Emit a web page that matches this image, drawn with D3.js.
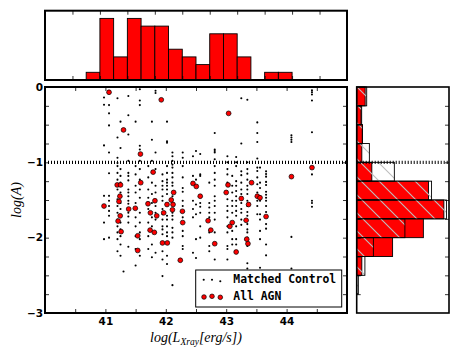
<!DOCTYPE html>
<html><head><meta charset="utf-8">
<script src="https://cdn.jsdelivr.net/npm/d3@7/dist/d3.min.js"></script>
<style>body{margin:0;background:#fff;} svg{display:block;}</style>
</head><body>
<script>
// ---------------- DATA ----------------
// All AGN: log(L_Xray) and log(A)
const agnLx = [41.06,41.925,41.30,43.04,41.58,41.79,44.42,44.08,41.195,41.25,41.585,41.24,41.225,40.977,41.385,41.495,41.705,41.82,41.745,41.85,41.245,41.21,41.26,41.74,41.81,41.535,41.535,42.13,42.09,42.12,42.02,42.11,41.965,42.275,42.45,42.505,42.57,42.28,42.70,42.745,42.81,41.945,42.025,42.24,43.03,43.00,43.42,43.25,43.515,43.56,43.37,43.66,43.33,43.10,43.06,43.34,43.36,43.165];
const agnLogA = [-0.07,-0.17,-0.57,-0.35,-0.89,-1.13,-1.07,-1.19,-1.30,-1.30,-1.27,-1.45,-1.52,-1.58,-1.62,-1.61,-1.55,-1.51,-1.67,-1.71,-1.71,-1.78,-1.92,-1.90,-1.93,-1.975,-2.17,-1.40,-1.50,-1.56,-1.56,-1.63,-1.67,-1.65,-1.28,-1.32,-1.45,-1.80,-1.775,-1.90,-2.08,-2.07,-2.07,-2.30,-1.30,-1.40,-1.27,-1.48,-1.45,-1.47,-1.56,-1.72,-1.77,-1.80,-1.85,-2.02,-2.08,-2.19];

// Matched control: columns [log(L_Xray), [log(A) values]]
const controlColumns = [
  [40.977, [-0.14,-0.235,-0.775,-1.445,-1.80,-2.02]],
  [41.06,  [-0.24,-0.35,-0.51,-0.87,-1.145,-1.445,-1.51,-1.58,-1.645,-1.71,-2.00]],
  [41.20,  [-0.15,-0.67,-0.94,-1.05,-1.14,-1.23,-1.36,-1.49,-1.58,-1.67,-1.76,-1.85,-1.93,-2.02,-2.18,-1.01]],
  [41.25,  [-0.46,-0.81,-1.09,-1.18,-1.27,-1.40,-1.54,-1.62,-1.71,-1.80,-1.89,-1.98,-2.09,-2.24]],
  [41.30,  [-2.45]],
  [41.38,  [-0.12,-0.375,-0.63,-0.98,-1.14,-1.18,-1.24,-1.36,-1.40,-1.45,-1.51,-1.55,-1.67,-1.72,-1.80,-2.12]],
  [41.50,  [-0.46,-1.05,-1.16,-1.31,-1.40,-1.54,-1.73,-1.85,-1.98,-2.15,-2.37]],
  [41.57,  [-0.03,-0.18,-0.24,-0.78,-0.83,-0.98,-1.09,-1.23,-1.36,-1.47,-1.67,-1.80,-1.93,-2.02,-2.24]],
  [41.71,  [-1.05,-1.20,-1.36,-1.47,-1.62,-1.80,-1.98,-2.15]],
  [41.77,  [-0.46,-0.70,-0.98,-1.12,-1.27,-1.42,-1.54,-1.73,-1.85,-2.09,-2.26]],
  [41.83,  [-0.05,-0.08,-0.87,-1.09,-1.31,-1.40,-1.58,-1.67,-1.76,-1.93,-2.20]],
  [41.945, [-1.16,-1.25,-1.31,-1.36,-1.45,-1.51,-1.62,-1.69,-1.76,-1.85,-1.89,-1.955,-2.18,-2.29,-2.51]],
  [42.02,  [-0.46,-0.72,-0.74,-1.05,-1.14,-1.23,-1.27,-1.31,-1.36,-1.42,-1.71,-1.76,-1.85,-1.93,-1.98,-2.24,-2.35]],
  [42.11,  [-0.87,-0.92,-0.98,-1.03,-1.07,-1.14,-1.20,-1.27,-1.31,-1.45,-1.67,-1.71,-1.76,-1.87,-1.93,-2.00,-2.63]],
  [42.28,  [-0.87,-0.94,-1.05,-1.20,-1.34,-1.39,-1.51,-1.58,-1.73,-1.91,-1.98,-2.11,-2.15]],
  [42.45,  [-0.92,-1.18,-1.51,-1.62,-1.73,-2.20]],
  [42.50,  [-0.85,-1.23,-1.56,-1.69,-2.02,-2.27]],
  [42.57,  [-0.89,-1.16,-1.18,-1.54,-1.59,-1.67,-1.85,-2.00]],
  [42.72,  [-1.27,-1.54,-1.60,-1.67,-1.73,-1.93,-2.11,-2.18]],
  [42.81,  [-0.61,-0.83,-0.85,-0.87,-0.96,-1.05,-1.14,-1.23,-1.31,-1.45,-1.51,-1.58,-1.67,-1.76,-1.93,-2.29]],
  [43.02,  [-0.92,-1.00,-1.09,-1.16,-1.27,-1.49,-1.58,-1.645,-1.73,-1.85,-1.93,-2.11,-2.15,-2.29]],
  [43.10,  [-1.18,-1.31,-1.40,-1.51,-1.58,-1.67,-1.91,-2.02,-2.09]],
  [43.165, [-0.93,-1.00,-1.05,-1.25,-1.31,-1.38,-1.45,-1.51,-1.58,-1.645,-1.71,-1.85,-2.02,-2.09]],
  [43.25,  [-0.15,-0.75,-1.12,-1.17,-1.27,-1.36,-1.42,-1.54,-1.62,-1.67,-1.76,-1.83]],
  [43.35,  [-0.17,-1.00,-1.09,-1.15,-1.23,-1.31,-1.36,-1.42,-1.51,-1.58,-1.66,-1.71,-1.82,-1.89,-1.93,-2.00,-2.11,-2.34,-2.41]],
  [43.515, [-0.47,-0.61,-0.73,-0.95,-1.07,-1.115,-1.20,-1.29,-1.40,-1.51,-1.58,-1.69]],
  [43.56,  [-1.07,-1.27,-1.34,-1.45,-1.51,-1.69,-1.76,-1.91,-2.02,-2.40]],
  [43.66,  [-1.12,-1.155,-1.19,-1.26,-1.30,-1.39,-1.43,-1.47,-1.51,-1.58,-1.66,-1.82,-1.88,-2.09,-2.235]],
  [44.08,  [-0.64,-0.67,-0.70,-0.73,-1.99,-2.41]],
  [44.42,  [-0.045,-0.07,-0.10,-0.18,-0.60,-1.16,-1.51,-1.54,-1.59]]
];

// Top histogram (AGN log L_Xray)
const topBinEdges = [40.75,41.0,41.25,41.5,41.75,42.0,42.25,42.5,42.75,43.0,43.25,43.5,43.75,44.0,44.25,44.5];
const topCounts   = [1,8,3,8,7,7,4,3,2,6,6,3,0,1,1];

// Right histogram (log A)
const rightBinEdges = [0,-0.25,-0.5,-0.75,-1.0,-1.25,-1.5,-1.75,-2.0,-2.25,-2.5,-2.75,-3.0];
const rightAgn      = [1.65,0.85,1.1,1.0,2.95,14,17,13,7,1,0,0];
const rightControl  = [1.95,0.97,1.1,2.47,7.34,14.6,17.5,9.4,3.25,1.6,0.32,0];

// Ticks
const xTicks = [40.5,41,41.5,42,42.5,43,43.5,44,44.5];
const xTickLabels = {41:"41",42:"42",43:"43",44:"44"};
const yTicks = [-0.25,-0.5,-0.75,-1,-1.25,-1.5,-1.75,-2,-2.25,-2.5,-2.75];
const yTickLabels = {0:"0","-1":"\u22121","-2":"\u22122","-3":"\u22123"};
const yLabelValues = [0,-1,-2,-3];
const topXTicks = [40.5,41,41.5,42,42.5,43,43.5,44,44.5,45];
const cutLevel = -1;

// ---------------- DRAW ----------------
const W = 463, H = 348;
const svg = d3.select("body").append("svg").attr("width", W).attr("height", H)
  .style("font-family", "'DejaVu Sans', sans-serif");

const M = {l:45, r:347, t:87, b:313};
const x = d3.scaleLinear().domain([40,45]).range([M.l, M.r]);
const y = d3.scaleLinear().domain([0,-3]).range([M.t, M.b]);

const TH = {l:45, r:347, t:10.7, b:80};
const topX = d3.scaleLinear().domain([40,45.5]).range([TH.l, TH.r]);
const topY = d3.scaleLinear().domain([0,9]).range([TH.b, TH.t]);

const RH = {l:356.7, r:449, t:87, b:313};
const rightX = d3.scaleLinear().domain([0,18]).range([RH.l, RH.r]);

// hatch pattern
const defs = svg.append("defs");
const pat = defs.append("pattern").attr("id","hatch").attr("patternUnits","userSpaceOnUse")
  .attr("width",18).attr("height",18);
pat.append("path").attr("d","M-2,-2 L20,20 M-11,7 L2,20 M7,-11 L20,2")
  .attr("stroke","#bdbdbd").attr("stroke-width",1.1).attr("fill","none");

// ----- main scatter -----
const main = svg.append("g");
const controlPts = [];
controlColumns.forEach(([lx, ys]) => ys.forEach(a => controlPts.push([lx, a])));
main.selectAll("circle.ctrl").data(controlPts).enter().append("circle")
  .attr("class","ctrl").attr("cx", d => x(d[0])).attr("cy", d => y(d[1]))
  .attr("r", 1.05).attr("fill", "#000");

const agn = agnLx.map((v,i) => [v, agnLogA[i]]);
main.selectAll("circle.agn").data(agn).enter().append("circle")
  .attr("class","agn").attr("cx", d => x(d[0])).attr("cy", d => y(d[1]))
  .attr("r", 2.4).attr("fill", "#ff0000").attr("stroke","#000").attr("stroke-width",0.7);

// dotted cut line
main.append("line").attr("x1", x(40)).attr("x2", x(45)).attr("y1", y(cutLevel)).attr("y2", y(cutLevel))
  .attr("stroke","#000").attr("stroke-width",3.2).attr("stroke-dasharray","1,2");

// axes ticks (inward)
function styleAxis(g){ g.select(".domain").remove(); g.selectAll(".tick line").attr("stroke","#000").attr("stroke-width",0.8); }
svg.append("g").attr("transform",`translate(0,${M.b})`)
  .call(d3.axisBottom(x).tickValues(xTicks).tickSizeInner(-4).tickSizeOuter(0).tickPadding(6)
    .tickFormat(d => xTickLabels[d] || ""))
  .call(styleAxis)
  .call(g => g.selectAll("text").attr("font-size","10.5px").attr("font-weight","bold").attr("fill","#000")
     .attr("font-family","'DejaVu Sans', sans-serif").attr("y", 5).attr("dy","0.71em"));
svg.append("g").attr("transform",`translate(0,${M.t})`)
  .call(d3.axisTop(x).tickValues(xTicks).tickSizeInner(-4).tickSizeOuter(0).tickFormat(""))
  .call(styleAxis);
svg.append("g").attr("transform",`translate(${M.l},0)`)
  .call(d3.axisLeft(y).tickValues(yTicks).tickSizeInner(-4).tickSizeOuter(0).tickFormat(""))
  .call(styleAxis);
svg.append("g").attr("transform",`translate(${M.r},0)`)
  .call(d3.axisRight(y).tickValues(yTicks).tickSizeInner(-4).tickSizeOuter(0).tickFormat(""))
  .call(styleAxis);
// y tick labels (integers)
svg.append("g").selectAll("text").data(yLabelValues).enter().append("text")
  .attr("x", M.l - 2).attr("y", d => y(d)).attr("dy","0.36em").attr("text-anchor","end")
  .attr("font-size","10.5px").attr("font-weight","bold").text(d => yTickLabels[d]);

// main frame
svg.append("rect").attr("x",M.l).attr("y",M.t).attr("width",M.r-M.l).attr("height",M.b-M.t)
  .attr("fill","none").attr("stroke","#000").attr("stroke-width",2);

// axis labels
const xl = svg.append("text").attr("x", (M.l+M.r)/2).attr("y", 342).attr("text-anchor","middle")
  .attr("font-family","'Liberation Serif', serif").attr("font-style","italic").attr("font-size","14px");
xl.append("tspan").text("log(L");
xl.append("tspan").attr("font-size","9.5px").attr("dy","3").text("Xray");
xl.append("tspan").attr("dy","-3").text("[erg/s])");
svg.append("text").attr("transform",`translate(21,${(M.t+M.b)/2}) rotate(-90)`).attr("text-anchor","middle")
  .attr("font-family","'Liberation Serif', serif").attr("font-style","italic").attr("font-size","14px")
  .text("log(A)");

// legend
const lg = svg.append("g");
lg.append("rect").attr("x",195.7).attr("y",270).attr("width",146).attr("height",37)
  .attr("fill","#fff").attr("stroke","#000").attr("stroke-width",1);
const legCtrl = [[203.7,279.7],[212,279.7],[220.3,281.3]];
const legAgn = [[204,297],[212,296.3],[220.3,297.3]];
lg.selectAll("circle.lc").data(legCtrl).enter().append("circle").attr("cx",d=>d[0]).attr("cy",d=>d[1]).attr("r",1.05).attr("fill","#000");
lg.selectAll("circle.la").data(legAgn).enter().append("circle").attr("cx",d=>d[0]).attr("cy",d=>d[1]).attr("r",2.3)
  .attr("fill","#ff0000").attr("stroke","#000").attr("stroke-width",0.7);
lg.append("text").attr("x",233.3).attr("y",283).attr("font-family","'DejaVu Sans Mono', monospace").attr("font-weight","bold")
  .attr("font-size","11.4px").text("Matched Control");
lg.append("text").attr("x",233.3).attr("y",299.5).attr("font-family","'DejaVu Sans Mono', monospace").attr("font-weight","bold")
  .attr("font-size","11.4px").text("All AGN");

// ----- top histogram -----
const topBins = topCounts.map((c,i) => ({x0: topBinEdges[i], x1: topBinEdges[i+1], c}));
svg.append("g").selectAll("rect").data(topBins.filter(d => d.c > 0)).enter().append("rect")
  .attr("x", d => topX(d.x0)).attr("width", d => topX(d.x1) - topX(d.x0))
  .attr("y", d => topY(d.c)).attr("height", d => topY(0) - topY(d.c))
  .attr("fill","#ff0000").attr("stroke","#000").attr("stroke-width",0.9);
svg.append("g").attr("transform",`translate(0,${TH.b})`)
  .call(d3.axisBottom(topX).tickValues(topXTicks).tickSizeInner(-4).tickSizeOuter(0).tickFormat(""))
  .call(styleAxis);
svg.append("g").attr("transform",`translate(0,${TH.t})`)
  .call(d3.axisTop(topX).tickValues(topXTicks).tickSizeInner(-4).tickSizeOuter(0).tickFormat(""))
  .call(styleAxis);
svg.append("rect").attr("x",TH.l).attr("y",TH.t).attr("width",TH.r-TH.l).attr("height",TH.b-TH.t)
  .attr("fill","none").attr("stroke","#000").attr("stroke-width",2);

// ----- right histogram -----
const rBinsA = rightAgn.map((v,i) => ({y0: rightBinEdges[i], y1: rightBinEdges[i+1], v}));
const rBinsC = rightControl.map((v,i) => ({y0: rightBinEdges[i], y1: rightBinEdges[i+1], v}));
const rg = svg.append("g");
rg.selectAll("rect.ra").data(rBinsA.filter(d => d.v > 0)).enter().append("rect").attr("class","ra")
  .attr("x", rightX(0)).attr("width", d => rightX(d.v) - rightX(0))
  .attr("y", d => y(d.y0)).attr("height", d => y(d.y1) - y(d.y0))
  .attr("fill","#ff0000").attr("stroke","#000").attr("stroke-width",0.9);
rg.selectAll("rect.rc").data(rBinsC.filter(d => d.v > 0)).enter().append("rect").attr("class","rc")
  .attr("x", rightX(0)).attr("width", d => rightX(d.v) - rightX(0))
  .attr("y", d => y(d.y0)).attr("height", d => y(d.y1) - y(d.y0))
  .attr("fill","url(#hatch)").attr("stroke","#000").attr("stroke-width",0.9);
rg.append("line").attr("x1", RH.l).attr("x2", RH.r).attr("y1", y(cutLevel)).attr("y2", y(cutLevel))
  .attr("stroke","#000").attr("stroke-width",3.2).attr("stroke-dasharray","1,2");
svg.append("g").attr("transform",`translate(${RH.l},0)`)
  .call(d3.axisLeft(y).tickValues(yTicks).tickSizeInner(-4).tickSizeOuter(0).tickFormat(""))
  .call(styleAxis);
svg.append("g").attr("transform",`translate(${RH.r},0)`)
  .call(d3.axisRight(y).tickValues(yTicks).tickSizeInner(-4).tickSizeOuter(0).tickFormat(""))
  .call(styleAxis);
svg.append("rect").attr("x",RH.l).attr("y",RH.t).attr("width",RH.r-RH.l).attr("height",RH.b-RH.t)
  .attr("fill","none").attr("stroke","#000").attr("stroke-width",1.6);
</script>
</body></html>
